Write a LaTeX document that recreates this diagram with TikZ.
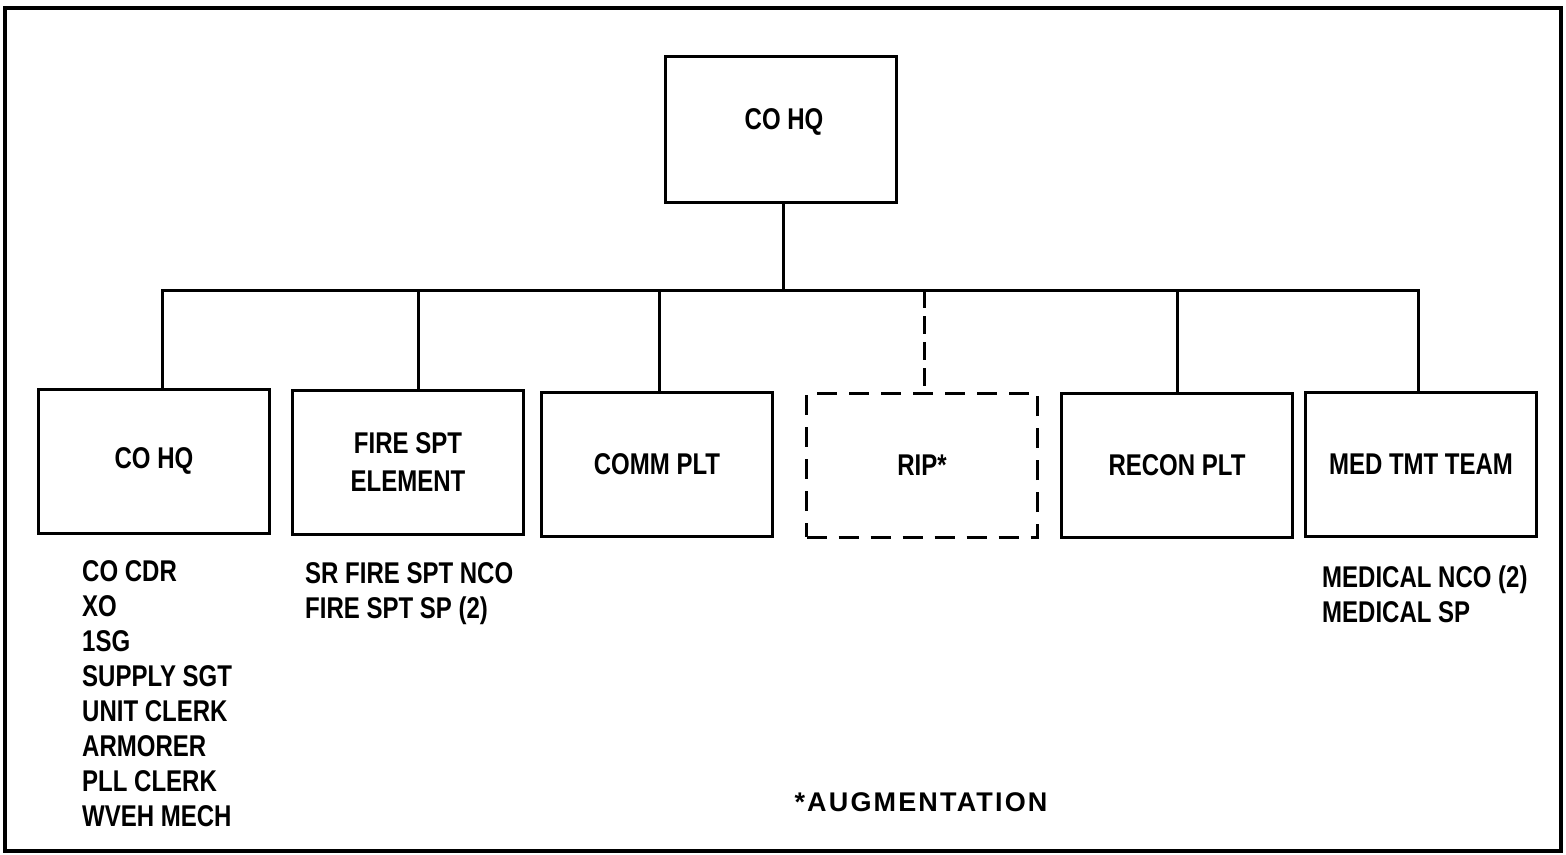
\documentclass[tikz,border=0pt]{standalone}
\usepackage{fontspec}
\newfontfamily\chartfont{Liberation Sans}[FakeStretch=0.80]
\newfontfamily\notefont{Liberation Sans}[LetterSpace=8]
\begin{document}
\begin{tikzpicture}[x=1pt,y=-1pt,
  unitbox/.style={draw,line width=3pt,minimum width=231pt,minimum height=144pt,inner sep=0pt,
    align=center,font=\chartfont\bfseries\fontsize{30}{38}\selectfont},
  augbox/.style={unitbox,dash pattern=on 20pt off 12pt},
  link/.style={line width=3pt},
  auglink/.style={line width=3pt,dash pattern=on 18pt off 8pt},
  roster/.style={anchor=north west,align=left,inner sep=0pt,
    font=\chartfont\bfseries\fontsize{30}{35}\selectfont},
  frame/.style={line width=4.5pt}]
\useasboundingbox (0,0) rectangle (1566,854);
\draw[frame] (5,8) rectangle (1561,851);

\node[unitbox,minimum height=146pt] (top) at (781,129) {};
\node[font=\chartfont\bfseries\fontsize{30}{38}\selectfont,inner sep=0pt] (toplabel) at (784,122) {CO HQ};

\node[unitbox] (c1) at (154,461) {CO HQ};
\node[unitbox] (c2) at (408,462) {FIRE SPT\\ELEMENT};
\node[unitbox] (c3) at (657,464) {COMM PLT};
\node[augbox]  (c4) at (922,465) {RIP*};
\node[unitbox] (c5) at (1177,465) {RECON PLT};
\node[unitbox] (c6) at (1421,464) {MED TMT TEAM};

\coordinate (bar) at (783,290);
\draw[link] ([xshift=2pt]top.south) -- ([xshift=2pt]top.south |- bar);
\draw[link] ([xshift=8pt]c1.north) -- ([xshift=8pt]c1.north |- bar)
  -- ([xshift=-3pt]c6.north |- bar) -- ([xshift=-3pt]c6.north);
\draw[link] ([xshift=10pt]c2.north) -- ([xshift=10pt]c2.north |- bar);
\draw[link] ([xshift=2pt]c3.north) -- ([xshift=2pt]c3.north |- bar);
\draw[auglink] ([xshift=2pt]c4.north |- bar) -- ([xshift=2pt]c4.north);
\draw[link] (c5.north) -- (c5.north |- bar);

\node[roster] (r1) at (82,560) {CO CDR\\XO\\1SG\\SUPPLY SGT\\UNIT CLERK\\ARMORER\\PLL CLERK\\WVEH MECH};
\node[roster] (r2) at (305,562) {SR FIRE SPT NCO\\FIRE SPT SP (2)};
\node[roster] (r6) at (1322,566) {MEDICAL NCO (2)\\MEDICAL SP};

\node[font=\notefont\bfseries\fontsize{27}{30}\selectfont,inner sep=0pt] (note) at (921,802) {*AUGMENTATION};
\end{tikzpicture}
\end{document}
